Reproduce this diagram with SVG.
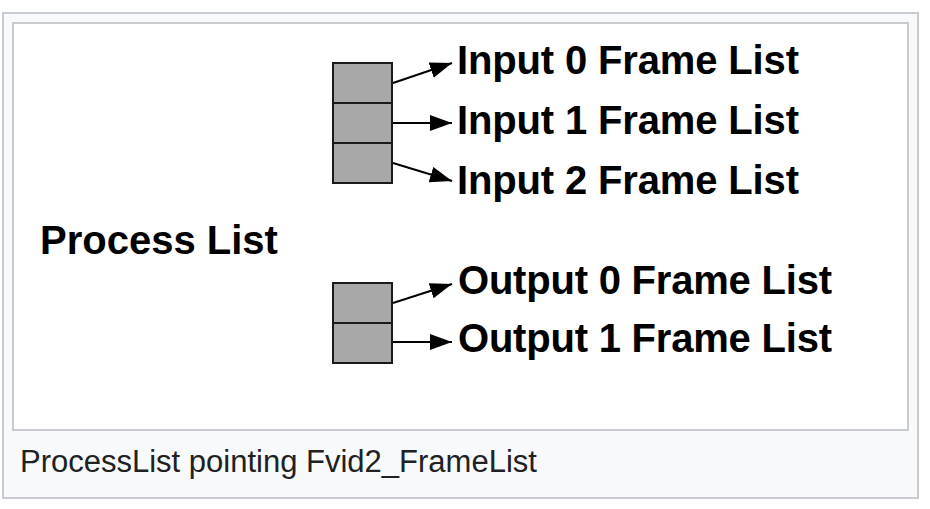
<svg xmlns="http://www.w3.org/2000/svg" width="930" height="509" viewBox="0 0 930 509">
<style>
.frame{fill:#f8f9fa;stroke:#c8ccd1;stroke-width:2}
.img{fill:#ffffff;stroke:#c8ccd1;stroke-width:2}
.cell{fill:#a8a8a8;stroke:#1a1a1a;stroke-width:2}
.lbl{font-family:"Liberation Sans",Arial,sans-serif;font-weight:bold;font-size:40px;fill:#000}
.cap{font-family:"Liberation Sans",Arial,sans-serif;font-size:31px;fill:#202122}
.arr{stroke:#000;stroke-width:2;fill:none;marker-end:url(#ah)}
</style>
<defs>
<marker id="ah" markerUnits="userSpaceOnUse" markerWidth="24" markerHeight="18" refX="22" refY="8" orient="auto">
<path d="M0,0 L22,8 L0,16 Z" fill="#000"/>
</marker>
</defs>
<rect class="frame" x="3" y="13" width="915" height="485"/>
<rect class="img" x="13" y="23" width="895" height="407"/>
<g id="process-list"><text class="lbl" x="40" y="254">Process List</text></g>
<g id="input-list">
<rect class="cell" x="333" y="63" width="59" height="40"/>
<rect class="cell" x="333" y="103" width="59" height="40"/>
<rect class="cell" x="333" y="143" width="59" height="40"/>
</g>
<g id="output-list">
<rect class="cell" x="333" y="283" width="59" height="40"/>
<rect class="cell" x="333" y="323" width="59" height="40"/>
</g>
<g id="input0"><text class="lbl" x="457" y="74" textLength="342">Input 0 Frame List</text></g>
<g id="input1"><text class="lbl" x="457" y="134" textLength="342">Input 1 Frame List</text></g>
<g id="input2"><text class="lbl" x="457" y="194" textLength="342">Input 2 Frame List</text></g>
<g id="output0"><text class="lbl" x="458" y="294" textLength="374">Output 0 Frame List</text></g>
<g id="output1"><text class="lbl" x="458" y="352" textLength="374">Output 1 Frame List</text></g>
<g id="connectors">
<line class="arr" x1="393" y1="83" x2="452" y2="63"/>
<line class="arr" x1="393" y1="123" x2="452" y2="123"/>
<line class="arr" x1="393" y1="163" x2="452" y2="181"/>
<line class="arr" x1="393" y1="303" x2="452" y2="284"/>
<line class="arr" x1="393" y1="342" x2="452" y2="342"/>
</g>
<text class="cap" x="20" y="472">ProcessList pointing Fvid2_FrameList</text>
</svg>
